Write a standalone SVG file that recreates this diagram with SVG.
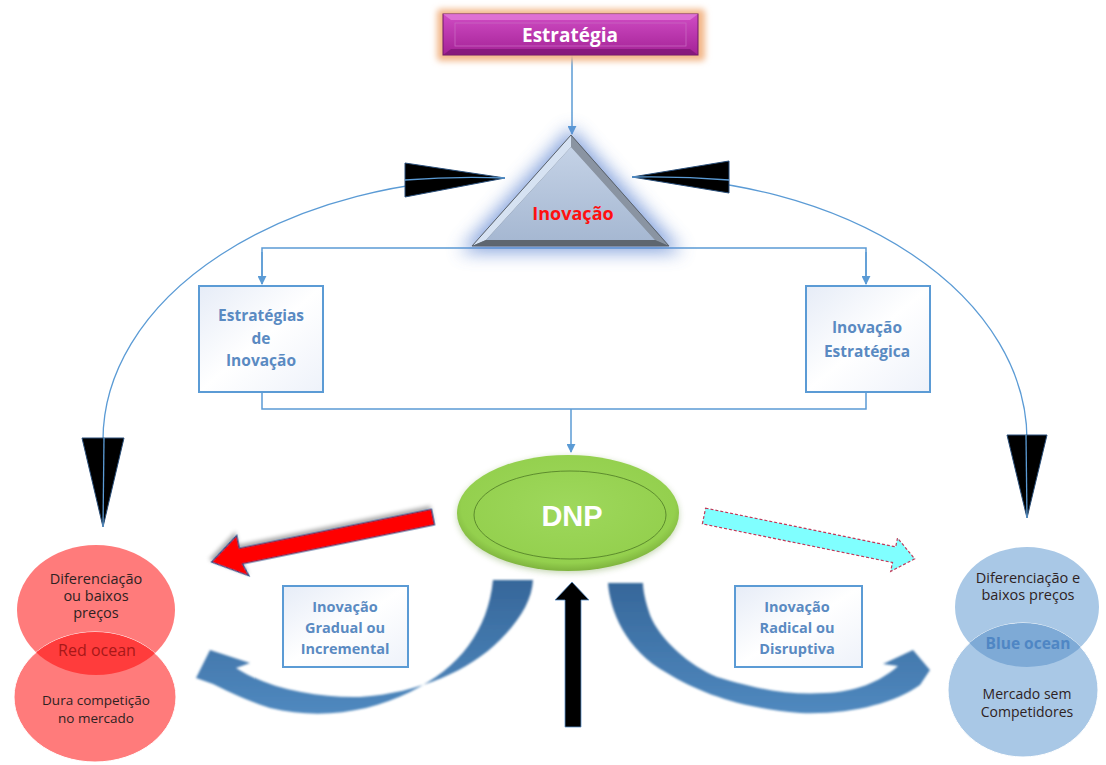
<svg xmlns="http://www.w3.org/2000/svg" width="1106" height="765" viewBox="0 0 1106 765">
  <defs>
    <style>
      .conn { fill: none; stroke: #5b9bd5; stroke-width: 1.5; }
      .arc { fill: none; stroke: #5b9bd5; stroke-width: 1.3; }
      .box { fill: url(#boxGrad); stroke: #5b9bd5; stroke-width: 2; }
      .boxtxt { font-family: "Open Sans", "Liberation Sans", Arial, sans-serif; font-weight: bold; fill: #5a8ac2; text-anchor: middle; }
      .circtxt { font-family: "Open Sans", "Liberation Sans", sans-serif; text-anchor: middle; fill: #2e2222; }
      .circtxt.red { fill: #a81818; }
      .circtxt.blue { fill: #4f86c4; font-weight: bold; }
      .blk { fill: #000; stroke: #2a4f7a; stroke-width: 1; }
      .band { fill: url(#bandGrad); filter: url(#soft); }
    </style>
    <marker id="ah" viewBox="0 0 10 10" refX="9" refY="5" markerWidth="6" markerHeight="6" orient="auto">
      <path d="M0 0 L10 5 L0 10 z" fill="#5b9bd5"/>
    </marker>
    <linearGradient id="boxGrad" x1="0" y1="0" x2="1" y2="1">
      <stop offset="0" stop-color="#e6ecf7"/>
      <stop offset="0.5" stop-color="#ffffff"/>
      <stop offset="1" stop-color="#eef2fa"/>
    </linearGradient>
    <linearGradient id="magGrad" x1="0" y1="0" x2="0" y2="1">
      <stop offset="0" stop-color="#d04cc4"/>
      <stop offset="1" stop-color="#a42296"/>
    </linearGradient>
    <linearGradient id="triGrad" x1="0" y1="0" x2="0" y2="1">
      <stop offset="0" stop-color="#c4d2e6"/>
      <stop offset="1" stop-color="#a6b8d2"/>
    </linearGradient>
    <radialGradient id="dnpGrad" cx="0.5" cy="0.45" r="0.6">
      <stop offset="0" stop-color="#9ed85c"/>
      <stop offset="0.8" stop-color="#94d04e"/>
      <stop offset="1" stop-color="#6e9e32"/>
    </radialGradient>
    <linearGradient id="bandGrad" x1="0" y1="0" x2="0" y2="1">
      <stop offset="0" stop-color="#36679a"/>
      <stop offset="1" stop-color="#5089bf"/>
    </linearGradient>
    <filter id="glowBlue" x="-40%" y="-40%" width="180%" height="180%">
      <feGaussianBlur stdDeviation="9"/>
    </filter>
    <filter id="glowOrange" x="-10%" y="-50%" width="120%" height="200%">
      <feGaussianBlur stdDeviation="3"/>
    </filter>
    <filter id="soft" x="-10%" y="-10%" width="120%" height="120%">
      <feGaussianBlur stdDeviation="0.8"/>
    </filter>
    <filter id="shadow" x="-20%" y="-20%" width="140%" height="150%">
      <feGaussianBlur in="SourceAlpha" stdDeviation="2"/>
      <feOffset dx="1" dy="3"/>
      <feComponentTransfer><feFuncA type="linear" slope="0.35"/></feComponentTransfer>
      <feMerge><feMergeNode/><feMergeNode in="SourceGraphic"/></feMerge>
    </filter>
  </defs>

  <rect width="1106" height="765" fill="#ffffff"/>

  <!-- connectors -->
  <g id="connectors">
    <line class="conn" x1="572" y1="55" x2="572" y2="134" marker-end="url(#ah)"/>
    <path class="conn" d="M262 284 L262 248 L866 248 L866 284" />
    <path class="conn" d="M262 252 L262 284" marker-end="url(#ah)"/>
    <path class="conn" d="M866 252 L866 284" marker-end="url(#ah)"/>
    <path class="conn" d="M262 393 L262 409 L866 409 L866 393"/>
    <line class="conn" x1="571" y1="409" x2="571" y2="452" marker-end="url(#ah)"/>

    <!-- curved feedback arcs with black arrowheads -->
    <path class="arc" d="M505 178 A402 262 0 0 0 103 440"/>
    <path class="arc" d="M632 177 A395 263 0 0 1 1027 440"/>
    <polygon class="blk" points="405,163 505,178 405,197"/>
    <polygon class="blk" points="729,161 632,177 729,193"/>
    <polygon class="blk" points="82,438 124,438 103,527"/>
    <polygon class="blk" points="1007,435 1047,435 1027,518"/>
    <path class="arc" d="M405 180 Q455 176 505 178"/>
    <path class="arc" d="M632 177 Q680 176 729 180"/>
    <path class="arc" d="M104 438 L103 527"/>
    <path class="arc" d="M1026 435 L1027 518"/>

    <!-- red arrow to red ocean -->
    <g transform="translate(433 517) rotate(168.5)">
      <path d="M0 -8 L196 -8 L192 -21 L226 0 L196 21 L196 8 L0 8 z" fill="#ff0000" stroke="#2a4f8a" stroke-width="1.2" filter="url(#shadow)"/>
    </g>
    <!-- cyan arrow to blue ocean -->
    <g transform="translate(704 516) rotate(11.5)">
      <path d="M0 -8 L194 -8 L194 -17 L215 0 L194 17 L194 8 L0 8 z" fill="#80ffff" stroke="#c03a5a" stroke-width="1.2" stroke-dasharray="3 2"/>
    </g>

    <!-- curved blue band arrows -->
    <path class="band" d="M493 580 C488 630 460 668 410 692 C370 712 320 720 270 708 C245 700 225 690 213 684 L196 678 L210 650 L250 663 L236 668 C270 690 320 698 360 697 C420 693 470 670 500 640 C520 620 532 600 533 580 Z"/>
    <path class="band" d="M608 583 C610 610 625 650 667 673 C700 693 740 708 800 713 C850 715 895 703 920 685 L930 670 L913 650 L883 664 L898 666 C880 682 855 692 825 693 C790 695 760 690 717 677 C690 666 660 640 650 615 C645 600 643 590 643 583 Z"/>

    <!-- black up arrow into DNP -->
    <path d="M565 727 L565 600 L555 600 L572 582 L589 600 L581 600 L581 727 Z" fill="#000" stroke="#5b8fc8" stroke-width="0.8"/>
  </g>

  <!-- Estratégia -->
  <g id="node-estrategia">
    <rect x="437" y="9" width="268" height="52" rx="4" fill="#f3b88a" filter="url(#glowOrange)"/>
    <rect x="443" y="14" width="255" height="41" fill="url(#magGrad)" stroke="#6e1a66" stroke-width="1"/>
    <polygon points="443,14 698,14 690,20 451,20" fill="#e27ad8" opacity="0.8"/>
    <polygon points="443,55 698,55 690,49 451,49" fill="#7e1676" opacity="0.8"/>
    <rect x="455" y="23" width="231" height="23" fill="none" stroke="#c866c0" stroke-width="0.8"/>
    <text x="570" y="42" font-family="Open Sans, Liberation Sans, Arial, sans-serif" font-weight="bold" font-size="19" fill="#ffffff" text-anchor="middle">Estratégia</text>
  </g>

  <!-- Inovação triangle -->
  <g id="node-inovacao">
    <polygon points="571,128 460,252 682,252" fill="#5a82d0" opacity="0.75" filter="url(#glowBlue)"/>
    <polygon points="571,135 472,246 669,246" fill="#6e7680"/>
    <polygon points="571,135 472,246 486,240 571,147" fill="#d6e2f2"/>
    <polygon points="571,135 669,246 655,240 571,147" fill="#8a94a2"/>
    <polygon points="486,240 655,240 571,147" fill="url(#triGrad)"/>
    <polygon points="472,246 669,246 655,240 486,240" fill="#5e6670"/>
    <polygon points="571,135 472,246 669,246" fill="none" stroke="#5a626c" stroke-width="1"/>
    <text x="573" y="220" font-family="Open Sans, Liberation Sans, Arial, sans-serif" font-weight="bold" font-size="18" fill="#ff1010" text-anchor="middle">Inovação</text>
  </g>

  <!-- Estratégias de Inovação -->
  <g id="node-estrategias-inovacao">
    <rect class="box" x="199" y="286" width="124" height="106"/>
    <text class="boxtxt" x="261" y="321" font-size="15.5">Estratégias</text>
    <text class="boxtxt" x="261" y="344" font-size="15.5">de</text>
    <text class="boxtxt" x="261" y="366" font-size="15.5">Inovação</text>
  </g>

  <!-- Inovação Estratégica -->
  <g id="node-inovacao-estrategica">
    <rect class="box" x="806" y="286" width="124" height="106"/>
    <text class="boxtxt" x="867" y="333" font-size="15.5">Inovação</text>
    <text class="boxtxt" x="867" y="357" font-size="15.5">Estratégica</text>
  </g>

  <!-- DNP -->
  <g id="node-dnp">
    <ellipse cx="568" cy="515" rx="111" ry="58" fill="#5a8a28" opacity="0.35" filter="url(#glowOrange)"/>
    <ellipse cx="568" cy="513" rx="111" ry="58" fill="url(#dnpGrad)"/>
    <ellipse cx="570" cy="515" rx="96" ry="44" fill="none" stroke="#4e7a24" stroke-width="0.8"/>
    <text x="572" y="526" font-family="Liberation Sans, Arial, sans-serif" font-weight="bold" font-size="29" fill="#ffffff" text-anchor="middle">DNP</text>
  </g>

  <!-- Inovação Gradual ou Incremental -->
  <g id="node-gradual">
    <rect class="box" x="283" y="586" width="125" height="81" stroke-width="1.5"/>
    <text class="boxtxt" x="345" y="612" font-size="14.5">Inovação</text>
    <text class="boxtxt" x="345" y="633" font-size="14.5">Gradual ou</text>
    <text class="boxtxt" x="345" y="654" font-size="14.5">Incremental</text>
  </g>

  <!-- Inovação Radical ou Disruptiva -->
  <g id="node-radical">
    <rect class="box" x="735" y="586" width="127" height="81" stroke-width="1.5"/>
    <text class="boxtxt" x="797" y="612" font-size="14.5">Inovação</text>
    <text class="boxtxt" x="797" y="633" font-size="14.5">Radical ou</text>
    <text class="boxtxt" x="797" y="654" font-size="14.5">Disruptiva</text>
  </g>

  <!-- Red ocean -->
  <g id="node-red-ocean">
    <clipPath id="redTop"><ellipse cx="96" cy="610" rx="79" ry="65"/></clipPath>
    <ellipse cx="96" cy="610" rx="79" ry="65" fill="#ff7b7b"/>
    <ellipse cx="95" cy="697" rx="81" ry="65" fill="#ff7b7b" stroke="#ffffff" stroke-width="1"/>
    <ellipse cx="95" cy="697" rx="81" ry="65" fill="#ff3c3c" clip-path="url(#redTop)"/>
    <text class="circtxt" x="96" y="584" font-size="14.5">Diferenciação</text>
    <text class="circtxt" x="96" y="601" font-size="14.5">ou baixos</text>
    <text class="circtxt" x="96" y="618" font-size="14.5">preços</text>
    <text class="circtxt red" x="97" y="656" font-size="16">Red ocean</text>
    <text class="circtxt" x="96" y="705" font-size="13.5">Dura competição</text>
    <text class="circtxt" x="96" y="723" font-size="13.5">no mercado</text>
  </g>

  <!-- Blue ocean -->
  <g id="node-blue-ocean">
    <clipPath id="blueTop"><ellipse cx="1027" cy="607" rx="72" ry="60"/></clipPath>
    <ellipse cx="1027" cy="607" rx="72" ry="60" fill="#a9c8e6"/>
    <ellipse cx="1023" cy="690" rx="75" ry="67" fill="#a9c8e6" stroke="#ffffff" stroke-width="1"/>
    <ellipse cx="1023" cy="690" rx="75" ry="67" fill="#7eaad6" clip-path="url(#blueTop)"/>
    <text class="circtxt" x="1028" y="583" font-size="14.5">Diferenciação e</text>
    <text class="circtxt" x="1028" y="600" font-size="14.5">baixos preços</text>
    <text class="circtxt blue" x="1028" y="649" font-size="15.5">Blue ocean</text>
    <text class="circtxt" x="1027" y="699" font-size="14">Mercado sem</text>
    <text class="circtxt" x="1027" y="717" font-size="14">Competidores</text>
  </g>
</svg>
